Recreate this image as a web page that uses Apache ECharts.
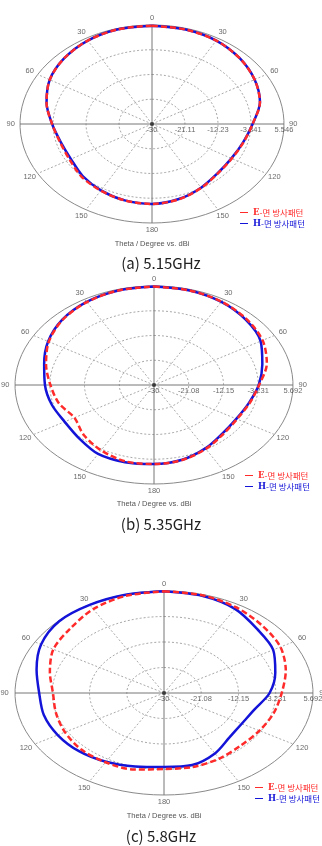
<!DOCTYPE html>
<html>
<head>
<meta charset="utf-8">
<script src="https://cdn.jsdelivr.net/npm/echarts@6/dist/echarts.min.js"></script>
<style>
  html, body { margin: 0; padding: 0; background: #fff; }
  #chart { width: 322px; height: 846px; }
</style>
</head>
<body>
<div id="chart"></div>
<script>
// angles run clockwise from the top, values in dBi
const ANGLES = [0, 15, 30, 45, 60, 75, 90, 105, 120, 135, 150, 165,
                180, 195, 210, 225, 240, 255, 270, 285, 300, 315, 330, 345];

const SPOKES = [0, 30, 60, 90, 120, 150, 180, 210, 240, 270, 300, 330];
const SPOKE_LABELS = ["0", "30", "60", "90", "120", "150", "180", "150", "120", "90", "60", "30"];

const RINGS_A = [-30, -21.11, -12.23, -3.341, 5.546];
const RINGS_B = [-30, -21.08, -12.15, -3.231, 5.692];
const RINGS_C = [-30, -21.08, -12.15, -3.231, 5.692];

const A_E = [5.3, 5.1, 4.6, 3.4, 1.9, 0.1, -2.9, -4.5, -5.2, -4.9, -3.5, -2.0,
             -1.3, -1.6, -2.4, -3.2, -4.4, -4.4, -3.1, -0.6, 1.8, 3.4, 4.6, 5.2];
const A_H = [5.3, 5.1, 4.6, 3.4, 1.9, 0.1, -2.9, -4.6, -5.3, -5.0, -3.6, -2.1,
             -1.3, -1.6, -2.5, -3.6, -4.8, -4.6, -3.1, -0.6, 1.8, 3.4, 4.6, 5.2];

const B_E = [5.5, 5.3, 4.7, 3.6, 2.2, 0.0, -3.0, -4.6, -5.4, -4.9, -3.4, -2.0,
             -1.5, -1.5, -2.8, -4.5, -6.4, -4.7, -3.4, -1.3, 1.2, 3.2, 4.5, 5.3];
const B_H = [5.5, 5.3, 4.6, 3.3, 1.6, -1.2, -3.1, -4.8, -5.6, -5.2, -3.6, -2.1,
             -1.5, -1.2, -1.3, -2.8, -3.5, -2.8, -2.0, -0.8, 1.4, 3.3, 4.6, 5.3];

const C_E = [5.6, 5.4, 4.6, 3.3, 2.2, 0.2, -1.8, -2.8, -3.6, -4.0, -3.5, -3.2,
             -3.4, -2.3, -2.0, -2.0, -2.6, -3.2, -3.4, -1.7, 0.6, 1.8, 3.9, 5.2];
const C_H = [5.6, 5.2, 4.0, 1.6, 0.2, -2.4, -4.7, -7.6, -8.5, -7.9, -5.6, -3.9,
             -4.1, -3.4, -2.2, -1.2, -0.6, -0.2, -0.1, 1.6, 4.0, 5.5, 5.6, 5.6];

const CAPTIONS = ["(a) 5.15GHz", "(b) 5.35GHz", "(c) 5.8GHz"];
const AXIS_TITLE = "Theta / Degree vs. dBi";
const E_NAME = "E-면 방사패턴";
const H_NAME = "H-면 방사패턴";

const E_COLOR = "#ff2a2a";
const H_COLOR = "#1414d8";
const TICK_FONT = "Liberation Sans";

// box = [left, top, width, height] of the plot ellipse
const PANELS = [
  { rings: RINGS_A, e: A_E, h: A_H, box: [20, 25, 264, 198], legend: [238, 207], theta: 244, cap: 263 },
  { rings: RINGS_B, e: B_E, h: B_H, box: [15, 286, 278, 198], legend: [243, 470], theta: 504, cap: 524 },
  { rings: RINGS_C, e: C_E, h: C_H, box: [15, 591, 298, 204], legend: [253, 782], theta: 816, cap: 836 },
];

function toXY(db, deg, rings) {
  const lo = rings[0], hi = rings[rings.length - 1];
  const r = (db - lo) / (hi - lo);
  const a = deg * Math.PI / 180;
  return [r * Math.sin(a), r * Math.cos(a)];
}

function unitXY(r, deg) {
  const a = deg * Math.PI / 180;
  return [r * Math.sin(a), r * Math.cos(a)];
}

function gridSeries(p, idx) {
  const out = [];
  const rings = p.rings;
  const hi = rings[rings.length - 1];
  // rings
  rings.slice(1).forEach((v, k) => {
    const pts = [];
    for (let d = 0; d <= 360; d += 4) pts.push(toXY(v, d, rings));
    const outer = k === rings.length - 2;
    out.push({
      type: "line", xAxisIndex: idx, yAxisIndex: idx, data: pts, symbol: "none", silent: true, clip: false,
      lineStyle: { color: outer ? "#8a8a8a" : "#a8a8a8", width: 1, type: outer ? "solid" : [2, 2] },
      z: 1,
    });
  });
  // spokes
  SPOKES.forEach(d => {
    const main = d % 90 === 0;
    out.push({
      type: "line", xAxisIndex: idx, yAxisIndex: idx, data: [[0, 0], toXY(hi, d, rings)],
      symbol: "none", silent: true, clip: false,
      lineStyle: { color: main ? "#777" : "#aaa", width: 1, type: main ? "solid" : [2, 2] },
      z: 1,
    });
  });
  // angle labels
  out.push({
    type: "scatter", xAxisIndex: idx, yAxisIndex: idx, symbolSize: 0, silent: true, clip: false,
    data: SPOKES.map(d => unitXY(1.07, d)),
    label: {
      show: true, position: "inside", color: "#444", fontSize: 7.5, fontFamily: TICK_FONT,
      formatter: q => SPOKE_LABELS[q.dataIndex],
    },
    z: 3,
  });
  // ring labels along the 90 degree axis
  out.push({
    type: "scatter", xAxisIndex: idx, yAxisIndex: idx, symbolSize: 0, silent: true, clip: false,
    data: rings.map(v => toXY(v, 90, rings)),
    label: {
      show: true, position: "bottom", distance: 2, color: "#444", fontSize: 7.5, fontFamily: TICK_FONT,
      formatter: q => String(rings[q.dataIndex]),
    },
    z: 3,
  });
  out.push({
    type: "scatter", xAxisIndex: idx, yAxisIndex: idx, symbolSize: 4, silent: true,
    data: [[0, 0]], itemStyle: { color: "#222" }, z: 3,
  });
  return out;
}

function patternSeries(name, vals, p, idx, color, dashed) {
  const pts = ANGLES.map((a, i) => toXY(vals[i], a, p.rings));
  pts.push(pts[0]);
  return {
    name, type: "line", xAxisIndex: idx, yAxisIndex: idx, data: pts,
    smooth: 0.3, symbol: "none", clip: false,
    itemStyle: { color },
    lineStyle: { color, width: 2.5, type: dashed ? [6, 3] : "solid" },
    z: dashed ? 5 : 4,
  };
}

const chart = echarts.init(document.getElementById("chart"), null, { renderer: "canvas" });

const series = [];
PANELS.forEach((p, i) => {
  series.push(...gridSeries(p, i));
  series.push(patternSeries(H_NAME, p.h, p, i, H_COLOR, false));
  series.push(patternSeries(E_NAME, p.e, p, i, E_COLOR, true));
});

const graphics = [];
PANELS.forEach((p, i) => {
  const cx = p.box[0] + p.box[2] / 2;
  graphics.push({
    type: "text", x: cx, y: p.theta,
    style: { text: AXIS_TITLE, align: "center", verticalAlign: "middle",
             font: "7.5px 'Liberation Sans'", fill: "#555" },
  });
  graphics.push({
    type: "text", x: 161, y: p.cap,
    style: { text: CAPTIONS[i], align: "center", verticalAlign: "middle",
             font: "15px 'Noto Sans CJK KR'", fill: "#222" },
  });
});

chart.setOption({
  animation: false,
  backgroundColor: "#fff",
  grid: PANELS.map(p => ({ left: p.box[0], top: p.box[1], width: p.box[2], height: p.box[3] })),
  xAxis: PANELS.map((p, i) => ({ gridIndex: i, type: "value", min: -1, max: 1, show: false })),
  yAxis: PANELS.map((p, i) => ({ gridIndex: i, type: "value", min: -1, max: 1, show: false })),
  legend: PANELS.map(p => ({
    left: p.legend[0], top: p.legend[1], orient: "vertical",
    itemGap: 2, itemWidth: 8, itemHeight: 1, icon: "rect",
    selectedMode: false, backgroundColor: "#fff", padding: [1, 2, 1, 2],
    data: [E_NAME, H_NAME],
    formatter: name => name === E_NAME ? "{eb|E}{e|-면 방사패턴}" : "{hb|H}{h|-면 방사패턴}",
    textStyle: {
      fontSize: 8.5, fontFamily: "Noto Sans CJK KR", padding: [0, 0, 0, 0],
      rich: {
        eb: { color: E_COLOR, fontWeight: "bold", fontSize: 8.5, fontFamily: "DejaVu Serif" },
        e: { color: E_COLOR, fontSize: 8.5, fontFamily: "Noto Sans CJK KR" },
        hb: { color: H_COLOR, fontWeight: "bold", fontSize: 8.5, fontFamily: "DejaVu Serif" },
        h: { color: H_COLOR, fontSize: 8.5, fontFamily: "Noto Sans CJK KR" },
      },
    },
  })),
  graphic: graphics,
  series,
});
</script>
</body>
</html>
